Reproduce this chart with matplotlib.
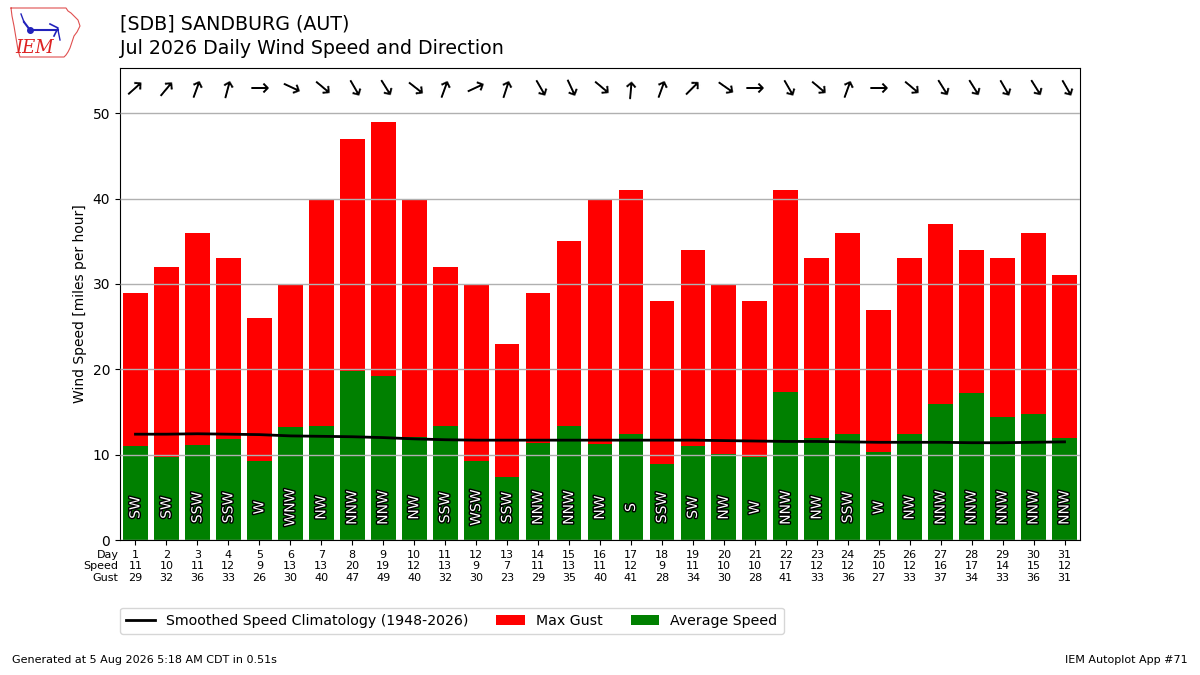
import matplotlib
matplotlib.use("Agg")
import matplotlib.pyplot as plt
import matplotlib.patheffects as pe
import numpy as np

# ---------------- data ----------------
days = list(range(1, 32))
avg_speed = [11.0, 9.7, 11.1, 11.8, 9.25, 13.2, 13.4, 19.8, 19.2, 12.1,
             13.4, 9.25, 7.4, 11.4, 13.4, 11.3, 12.45, 8.9, 11.0, 10.1,
             9.7, 17.4, 12.0, 12.45, 10.3, 12.45, 15.96, 17.2, 14.4, 14.8, 12.0]
max_gust = [29, 32, 36, 33, 26, 30, 40, 47, 49, 40,
            32, 30, 23, 29, 35, 40, 41, 28, 34, 30,
            28, 41, 33, 36, 27, 33, 37, 34, 33, 36, 31]
drct = [228, 220, 200, 195, 270, 295, 310, 330, 328, 308,
        200, 245, 198, 330, 335, 310, 185, 200, 225, 305,
        270, 330, 310, 200, 270, 310, 328, 328, 330, 328, 330]
drct_label = ["SW", "SW", "SSW", "SSW", "W", "WNW", "NW", "NNW", "NNW", "NW",
              "SSW", "WSW", "SSW", "NNW", "NNW", "NW", "S", "SSW", "SW", "NW",
              "W", "NNW", "NW", "SSW", "W", "NW", "NNW", "NNW", "NNW", "NNW", "NNW"]
clim = [12.4, 12.4, 12.45, 12.4, 12.35, 12.2, 12.15, 12.1, 12.0, 11.85,
        11.75, 11.7, 11.7, 11.7, 11.7, 11.7, 11.7, 11.7, 11.7, 11.65,
        11.6, 11.55, 11.55, 11.5, 11.45, 11.45, 11.45, 11.4, 11.4, 11.45, 11.5]

title = "[SDB] SANDBURG (AUT)\nJul 2026 Daily Wind Speed and Direction"

# ---------------- figure ----------------
fig = plt.figure(figsize=(12, 6.75), dpi=100)
ax = fig.add_axes([0.1, 0.2, 0.8, 0.7])

ax.bar(days, max_gust, width=0.8, color="red", label="Max Gust", zorder=1)
ax.bar(days, avg_speed, width=0.8, color="green", label="Average Speed", zorder=1)
ax.plot(days, clim, color="k", lw=2, zorder=4,
        label="Smoothed Speed Climatology (1948-2026)")

ax.set_axisbelow(False)
ax.yaxis.grid(True, color="#b0b0b0", lw=1, zorder=3)
ax.xaxis.grid(False)

ymax = max(max_gust)
ax.set_ylim(0, ymax * 1.13)
ax.set_xlim(0.5, 31.5)
ax.set_yticks([0, 10, 20, 30, 40, 50])
ax.set_ylabel("Wind Speed [miles per hour]")

ax.set_xticks(days)
ax.set_xticklabels([f"{d}\n{int(round(s))}\n{g}" for d, s, g in zip(days, avg_speed, max_gust)],
                   fontsize=8)
ax.annotate("Day\nSpeed\nGust", xy=(0, 0), xycoords="axes fraction",
            xytext=(-1, -7), textcoords="offset points", ha="right", va="top",
            fontsize=8)

for d, deg, lab in zip(days, drct, drct_label):
    ang = (-90 - deg) % 360
    ax.text(d, ymax * 1.08, "\u2192", rotation=ang, rotation_mode="anchor",
            ha="center", va="center", fontsize=17, zorder=5)
    ax.text(d, 3.8, lab, rotation=90, ha="center", va="center", fontsize=10,
            color="white", zorder=5,
            path_effects=[pe.withStroke(linewidth=2, foreground="k")])

handles, labels = ax.get_legend_handles_labels()
fig.legend(handles, labels, loc="upper left", bbox_to_anchor=(0.1, 0.1),
           borderaxespad=0, ncol=3, fontsize=10.15, borderpad=0.45)

fig.text(0.1, 1 - 15 / 675, title, ha="left", va="top", fontsize=13.7,
         linespacing=1.35)
fig.text(0.01, 0.015, "Generated at 5 Aug 2026 5:18 AM CDT in 0.51s", fontsize=8,
         ha="left", va="bottom")
fig.text(0.99, 0.015, "IEM Autoplot App #71", fontsize=8, ha="right", va="bottom")

# simple logo
lax = fig.add_axes([8 / 1200, 1 - 60 / 675, 74 / 1200, 55 / 675])
lax.set_xlim(0, 74)
lax.set_ylim(0, 55)
lax.axis("off")
ox = [3, 58, 60, 63, 66, 70, 72, 69, 66, 64, 62, 60, 58, 56, 12, 10, 8, 6, 4, 3]
oy = [52, 52, 49, 47, 44, 40, 34, 28, 24, 18, 12, 8, 5, 3, 3, 10, 22, 34, 44, 52]
lax.plot(ox, oy, color="#e05050", lw=0.8)
lax.plot([16, 22, 50], [38, 30, 30], color="#2222bb", lw=1.5)
lax.plot([22], [30], "o", color="#2222bb", ms=4)
lax.plot([13, 16], [46, 38], color="#2222bb", lw=1)
lax.plot([42, 50, 46], [36, 32, 24], color="#2222bb", lw=1.2)
lax.plot([50, 52], [30, 20], color="#2222bb", lw=1)
lax.text(27, 12, "IEM", color="#dd2222", fontsize=13, style="italic",
         family="DejaVu Serif", ha="center", va="center")

fig.savefig("out.png", dpi=100)
